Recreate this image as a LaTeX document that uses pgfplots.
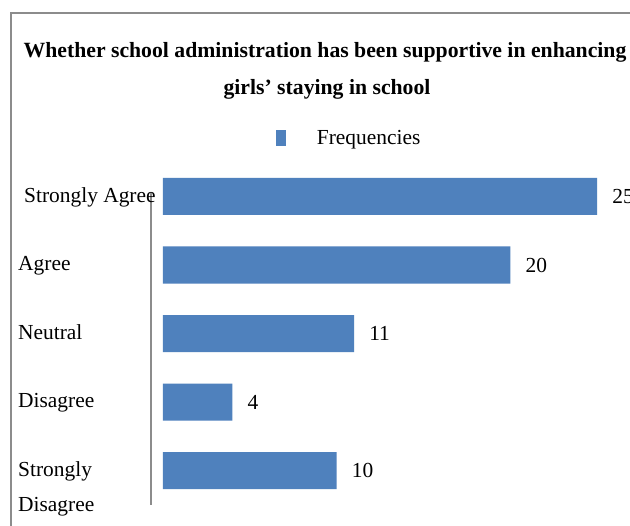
\documentclass[border=0pt]{standalone}
\usepackage{pgfplots}
\pgfplotsset{compat=1.18}
\usepackage{fontspec}
\setmainfont{Liberation Serif}
\definecolor{barblue}{RGB}{79,129,189}
\definecolor{framegray}{RGB}{140,140,140}
\begin{document}
\begin{tikzpicture}[x=1bp,y=1bp]
\useasboundingbox (0,0) rectangle (630,-526);
\clip (0,0) rectangle (630,-526);
\fill[white] (0,0) rectangle (630,-526);
\draw[framegray, line width=1.5bp] (11,-700) -- (11,-13) -- (700,-13);
\node[anchor=base, inner sep=0pt, font=\bfseries\fontsize{21.8}{26}\selectfont] at (325,-58) {Whether school administration has been supportive in enhancing};
\node[anchor=base, inner sep=0pt, font=\bfseries\fontsize{21.8}{26}\selectfont] at (327,-95) {girls’ staying in school};
\begin{axis}[
  at={(151bp,-505bp)}, anchor=south west,
  scale only axis, width=474bp, height=312bp,
  xbar, bar width=0.54,
  xmin=-0.69, xmax=26.6,
  ymin=-0.05, ymax=4.5, y dir=reverse,
  ytick={0,1,2,3,4},
  yticklabels={\hspace{6bp}Strongly Agree, Agree, Neutral, Disagree, {Strongly\\Disagree}},
  yticklabel style={anchor=north west, xshift=-133bp, yshift=9bp, align=left, inner sep=0pt, font=\fontsize{21.5}{35}\selectfont},
  major tick length=0pt,
  axis x line=none, axis y line*=left,
  y axis line style={-, framegray, line width=1.2bp},
  /pgf/number format/assume math mode=true,
  nodes near coords,
  nodes near coords style={font=\fontsize{21.5}{26}\selectfont, anchor=west, inner sep=0pt, xshift=15bp},
  legend style={at={(axis description cs:0.418,1.176)}, anchor=center, draw=none, fill=none, font=\fontsize{21.5}{26}\selectfont,
    /tikz/every odd column/.append style={column sep=29bp}},
  legend image code/.code={\fill[barblue] (0bp,-8bp) rectangle (10bp,8bp);},
  clip=false,
]
\addplot[fill=barblue, draw=none] coordinates {(25,0) (20,1) (11,2) (4,3) (10,4)};
\legend{Frequencies}
\end{axis}
\end{tikzpicture}
\end{document}
